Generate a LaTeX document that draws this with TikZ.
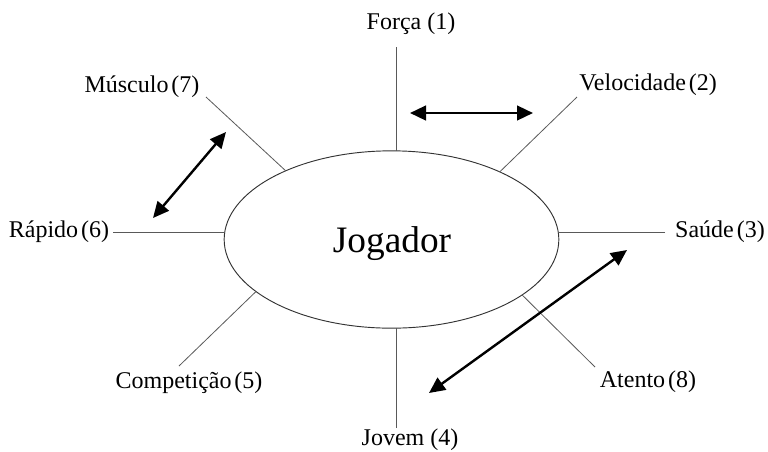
\documentclass[tikz,border=0pt]{standalone}
\usepackage{fontspec}
\setmainfont{Liberation Serif}
\usetikzlibrary{shapes.geometric,arrows.meta}
\newcommand{\tsp}{\hspace{0.12em}}
\begin{document}
\begin{tikzpicture}[x=0.75pt,y=-0.75pt,
  spoke/.style={draw=black!65, line width=0.6pt},
  link/.style={line width=1.8pt,
    {Triangle[length=12pt,width=11pt]}-{Triangle[length=12pt,width=11pt]}},
  lbl/.style={font=\fontsize{18}{21}\selectfont, inner sep=0pt, anchor=base},
]
\useasboundingbox (0,0) rectangle (768,451);

% central ellipse and its title
\node[draw=black!80, line width=0.7pt, ellipse, outer sep=0pt, inner sep=0pt,
      minimum width=251pt, minimum height=133pt] (J) at (391.5,239.5) {};
\node[font=\fontsize{28}{30}\selectfont, inner sep=0pt, anchor=base] (Jt) at (392,252) {Jogador};

% labels
\node[lbl] (l1) at (411,29)  {Força (1)};
\node[lbl] (l2) at (648,90)  {Velocidade\tsp(2)};
\node[lbl] (l3) at (720,237) {Saúde\tsp(3)};
\node[lbl] (l4) at (410,445) {Jovem (4)};
\node[lbl] (l5) at (189,388) {Competição\tsp(5)};
\node[lbl] (l6) at (59,237)  {Rápido\tsp(6)};
\node[lbl] (l7) at (142,92)  {Músculo\tsp(7)};
\node[lbl] (l8) at (648,387) {Atento\tsp(8)};

% outer ends of the spokes
\coordinate (s1) at (396,47);
\coordinate (s2) at (577,97);
\coordinate (s3) at (665,232);
\coordinate (s4) at (396,428);
\coordinate (s5) at (179,366);
\coordinate (s6) at (113,232);
\coordinate (s7) at (206,97);
\coordinate (s8) at (595,367);

% spokes
\draw[spoke] (s1) -- (s1 |- J.north);
\draw[spoke] (s2) -- (J.32.6);
\draw[spoke] (s3) -- (s3 -| J.east);
\draw[spoke] (s4) -- (s4 |- J.south);
\draw[spoke] (s5) -- (J.201.5);
\draw[spoke] (s6) -- (s6 -| J.west);
\draw[spoke] (s7) -- (J.147.4);
\draw[spoke] (s8) -- (J.-23.8);

% double-headed arrows
\coordinate (a1) at (410,113);
\coordinate (b1) at (533,113);
\coordinate (a2) at (153,218);
\coordinate (b2) at (226,132);
\coordinate (a3) at (429,393);
\coordinate (b3) at (627,250);
\draw[link] (a1) -- (b1);
\draw[link] (a2) -- (b2);
\draw[link] (a3) -- (b3);
\end{tikzpicture}
\end{document}
